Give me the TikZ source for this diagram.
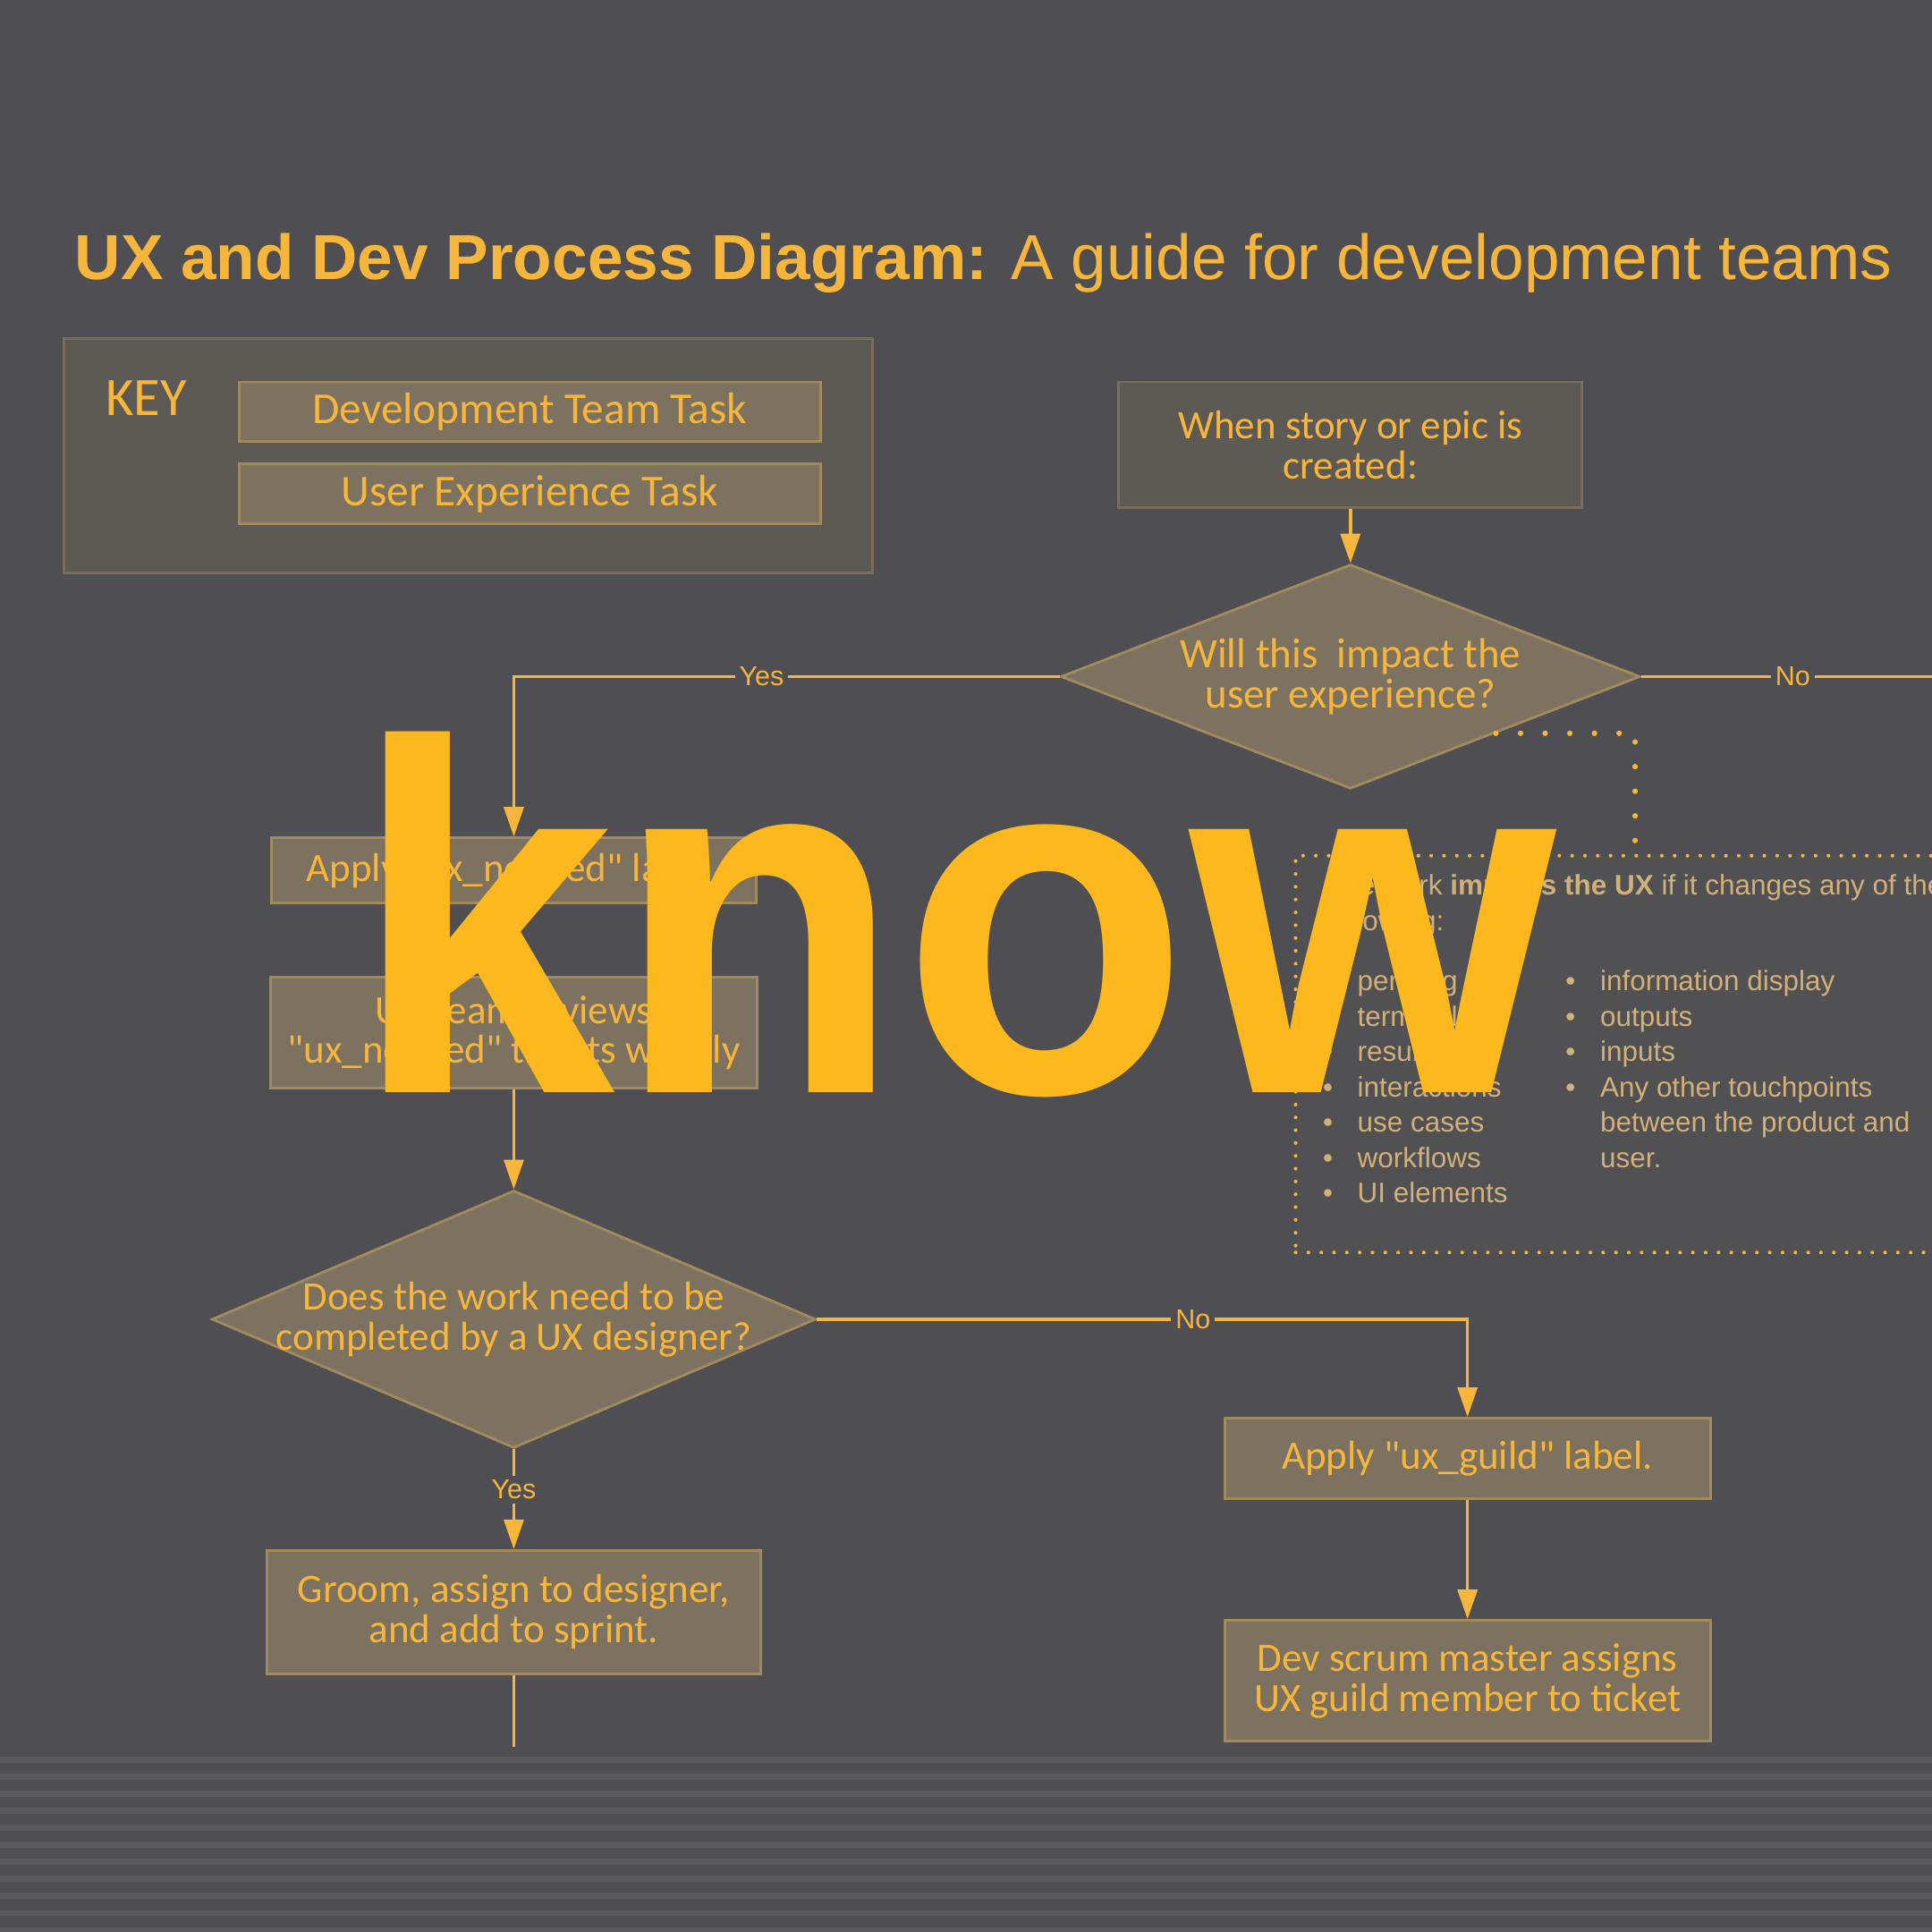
\documentclass[tikz,border=0pt]{standalone}
\usepackage{fontspec}
\setmainfont{Carlito}[Ligatures=TeXOff]
\newfontfamily\arialfont{Liberation Sans}
\usetikzlibrary{positioning,shapes.geometric,arrows.meta}
\definecolor{hgrund}{HTML}{4F4F53}
\definecolor{streifen}{HTML}{5A595D}
\definecolor{uxgelb}{HTML}{F6B53B}
\definecolor{hellgelb}{HTML}{FCB81C}
\definecolor{listgelb}{HTML}{D2B079}
\definecolor{kastenfarbe}{HTML}{7C725F}
\definecolor{kastenrand}{HTML}{A08A5E}
\definecolor{schluesselfarbe}{HTML}{5D5A55}
\definecolor{schluesselrand}{HTML}{786C5A}
\newcommand\kastenschrift{\fontsize{9.3}{9.25}\selectfont}
\newcommand\antwortschrift{\arialfont\fontsize{6.3}{7}\selectfont}
\newcommand\listenschrift{\arialfont\fontsize{6.5}{7.5}\selectfont}
\tikzset{
  kasten/.style={draw=kastenrand,fill=kastenfarbe,line width=0.6pt,
    text=uxgelb,align=center,inner sep=0pt,font=\kastenschrift},
  dunkel/.style={kasten,draw=schluesselrand,fill=schluesselfarbe},
  frage/.style={diamond,kasten,inner sep=0pt},
  fragetext/.style={text=uxgelb,align=center,font=\kastenschrift},
  linie/.style={draw=uxgelb,line width=0.7pt},
  pfeil/.style={linie,-{Triangle[width=1.6mm,length=2.4mm]}},
  antwort/.style={font=\antwortschrift,text=uxgelb,fill=hgrund,inner sep=1pt},
  punktkasten/.style={draw=uxgelb,fill=hgrund!96!kastenfarbe,line width=0.3mm,
    line cap=round,dash pattern=on 0pt off 1.04mm},
  punktlinie/.style={draw=uxgelb,line width=0.45mm,line cap=round,
    dash pattern=on 0pt off 2mm},
  liste/.style={font=\listenschrift,text=listgelb,anchor=base west,inner sep=0pt}
}
\begin{document}
\begin{tikzpicture}[node distance=0.5cm]
% Hintergrund
  \fill[hgrund] (0,0) rectangle (15.68,-15.68);
  \useasboundingbox (0,0) rectangle (15.68,-15.68);
  \clip (0,0) rectangle (15.68,-15.68);
  \foreach \k in {0,...,10}
    \fill[streifen] (0,{-14.26-0.138*\k}) rectangle (15.68,{-14.31-0.138*\k});
% Titel
  \node[anchor=base west,inner sep=0pt,text=uxgelb,
    font=\arialfont\fontsize{14.7}{16}\selectfont] (titel) at (0.60,-2.27)
    {\textbf{UX and Dev Process Diagram:} A guide for development teams};
% Legende
  \node[dunkel,minimum width=6.56cm,minimum height=1.90cm] (key) at (3.80,-3.70) {};
  \node[anchor=base west,inner sep=0pt,text=uxgelb,font=\fontsize{12.5}{13}\selectfont]
    (keytext) at (0.85,-3.37) {KEY};
  \node[kasten,minimum width=4.72cm,minimum height=0.48cm,font=\fontsize{10.2}{11}\selectfont]
    (devtask) at (4.30,-3.34) {Development Team Task};
  \node[kasten,minimum width=4.72cm,minimum height=0.49cm,font=\fontsize{10.2}{11}\selectfont,
    below=0.16cm of devtask] (uxtask) {User Experience Task};
% Ablauf
  \node[dunkel,minimum width=3.76cm,minimum height=1.02cm] (when) at (10.96,-3.61)
    {When story or epic is\\created:};
  \node[frage,minimum width=4.70cm,minimum height=1.82cm,below=0.44cm of when] (q1) {};
  \node[fragetext,font=\fontsize{9.7}{9.4}\selectfont] (q1t) at (q1)
    {Will this\ \ impact the\\user experience?};
  \node[kasten,minimum width=3.94cm,minimum height=0.53cm] (apply1) at (4.17,-7.065)
    {Apply "ux\_needed" label.};
  \node[kasten,minimum width=3.95cm,minimum height=0.90cm,below=0.58cm of apply1] (review)
    {UX Team reviews\\"ux\_needed" tickets weekly};
  \node[frage,minimum width=4.90cm,minimum height=2.09cm,below=0.81cm of review] (q2) {};
  \node[fragetext] (q2t) at (q2) {Does the work need to be\\completed by a UX designer?};
  \node[kasten,minimum width=4.01cm,minimum height=1.00cm,below=0.81cm of q2] (groom)
    {Groom, assign to designer,\\and add to sprint.};
  \node[kasten,minimum width=3.94cm,minimum height=0.65cm] (guild) at (11.91,-11.835)
    {Apply "ux\_guild" label.};
  \node[kasten,minimum width=3.94cm,minimum height=0.98cm,below=0.97cm of guild] (scrum)
    {Dev scrum master assigns\\UX guild member to ticket};
% Verbindungen
  \coordinate (nein1) at ([xshift=2.68cm]q1.east);
  \coordinate (weiter) at ([yshift=-0.58cm]groom.south);
  \draw[pfeil] (when) -- (q1);
  \draw[pfeil] (q1.west) -| node[antwort,pos=0.273]{Yes} (apply1.north);
  \draw[linie] (q1.east) -- node[antwort,pos=0.459]{No} (nein1);
  \draw[pfeil] (apply1) -- (review);
  \draw[pfeil] (review) -- (q2);
  \draw[pfeil] (q2.east) -| node[antwort,pos=0.289]{No} (guild.north);
  \draw[pfeil] (q2.south) -- node[antwort,pos=0.4]{Yes} (groom.north);
  \draw[linie] (groom.south) -- (weiter);
  \draw[pfeil] (guild) -- (scrum);
% Hinweis zur UX-Wirkung
  \node[punktkasten,anchor=north west,minimum width=7cm,minimum height=3.22cm] (impact)
    at (10.50,-6.93) {};
  \coordinate (ecke) at ([xshift=2.77cm]impact.north west);
  \draw[punktlinie] (q1.south east) -| (ecke);
  \node[liste] (kopf1) at (10.76,-7.26)
    {The work \textbf{impacts the UX} if it changes any of the};
  \node[liste] (kopf2) at (10.76,-7.55) {following:};
  \foreach \i/\punkt in {0/pending,1/terminology,2/results,3/interactions,
      4/use cases,5/workflows,6/UI elements}{
    \node[liste] (lp\i) at (10.73,{-8.04-0.287*\i}) {•};
    \node[liste] (lt\i) at (11.01,{-8.04-0.287*\i}) {\punkt};
  }
  \foreach \i/\punkt in {0/information display,1/outputs,2/inputs,3/Any other touchpoints}{
    \node[liste] (rp\i) at (12.70,{-8.04-0.287*\i}) {•};
    \node[liste] (rt\i) at (12.98,{-8.04-0.287*\i}) {\punkt};
  }
  \node[liste] (rt4) at (12.98,{-8.04-0.287*4}) {between the product and};
  \node[liste] (rt5) at (12.98,{-8.04-0.287*5}) {user.};
% Wasserzeichen
  \node[anchor=base west,inner sep=0pt,text=hellgelb,
    font=\arialfont\bfseries\fontsize{115}{115}\selectfont] (wm) at (2.86,-8.87)
    {\scalebox{0.945}[1]{know}};
\end{tikzpicture}
\end{document}
